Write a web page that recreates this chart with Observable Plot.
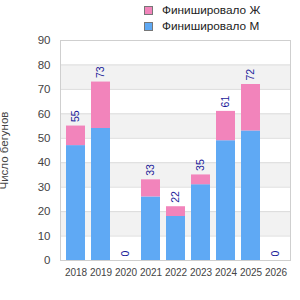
<!DOCTYPE html>
<html><head><meta charset="utf-8">
<script src="https://cdn.jsdelivr.net/npm/d3@7"></script>
<script src="https://cdn.jsdelivr.net/npm/@observablehq/plot@0.6"></script>
<style>
body{margin:0;background:#fff;font-family:"Liberation Sans",Arial,sans-serif;}
#legend{height:35px;position:relative;font-size:11.8px;color:#222;}
.item{position:absolute;left:144px;height:10px;display:flex;align-items:center;}
.sw{width:9px;height:9px;border:1px solid #777;box-sizing:border-box;margin-right:9px;}
</style></head>
<body>
<div id="legend"></div>
<div id="chart"></div>
<script>
const years = ["2018","2019","2020","2021","2022","2023","2024","2025","2026"];
const men = [47,54,0,26,18,31,49,53,0];
const women = [8,19,0,7,4,4,12,19,0];
const totals = [55,73,0,33,22,35,61,72,0];
const seriesNames = ["Финишировало М","Финишировало Ж"];
const seriesColors = ["#5fa9f4","#f284bb"];
const yTicks = [0,10,20,30,40,50,60,70,80,90];
const yLabel = "Число бегунов";

// legend (Ж first, then М)
const legend = document.getElementById("legend");
[1,0].forEach((s,i)=>{
  const it = document.createElement("div");
  it.className="item";
  it.style.top = (5 + i*16) + "px";
  it.innerHTML = `<span class="sw" style="background:${seriesColors[s]}"></span><span>${seriesNames[s]}</span>`;
  legend.appendChild(it);
});

const rows = [];
years.forEach((y,i)=>{
  rows.push({year:y, series:seriesNames[0], value:men[i]});
  rows.push({year:y, series:seriesNames[1], value:women[i]});
});
const totalRows = years.map((y,i)=>({year:y,total:totals[i]}));
const bands = [];
for (let i=1;i<yTicks.length-1;i+=2) bands.push({y1:yTicks[i],y2:yTicks[i+1]});

const chart = Plot.plot({
  width:300, height:265,
  marginTop:5, marginBottom:40, marginLeft:60, marginRight:10,
  style:{fontFamily:"'Liberation Sans', Arial, sans-serif", fontSize:"11.5px", color:"#444", background:"#fff"},
  x:{domain:years, paddingInner:0.25, paddingOuter:0.15, label:null, tickSize:0, tickPadding:8},
  y:{domain:[0,90], ticks:yTicks, tickSize:0, tickPadding:10, label:null},
  color:{domain:seriesNames, range:seriesColors},
  marks:[
    Plot.rectY(bands,{y1:"y1",y2:"y2",fill:"#f2f2f2"}),
    Plot.ruleY(yTicks,{stroke:"#dcdcdc"}),
    Plot.barY(rows, Plot.stackY({x:"year", y:"value", fill:"series", order:seriesNames})),
    Plot.text(totalRows,{x:"year", y:"total", text:d=>String(d.total), rotate:-90, textAnchor:"start", lineAnchor:"middle", dy:-4, fill:"#1a1a99", fontSize:10.5}),
    Plot.text([yLabel],{frameAnchor:"left", rotate:-90, dx:-53, textAnchor:"middle", lineAnchor:"bottom", fill:"#444", fontSize:11.5}),
    Plot.frame({stroke:"#cfcfcf"})
  ]
});
chart.querySelectorAll("text").forEach(t=>{
  if (years.includes(t.textContent)) t.style.fontSize = "10px";
});
document.getElementById("chart").appendChild(chart);
</script>
</body></html>
